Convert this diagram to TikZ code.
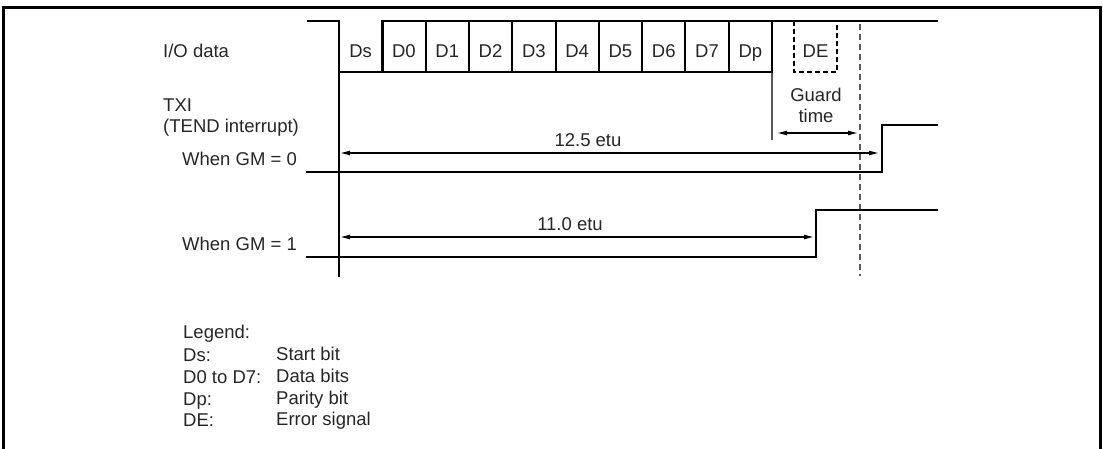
\documentclass[tikz,border=0pt]{standalone}
\usepackage{fontspec}
\setmainfont{Liberation Sans}
\usetikzlibrary{arrows.meta}
\begin{document}
\begin{tikzpicture}[x=1pt,y=-1pt,
  lbl/.style={font=\fontsize{18.5}{22}\selectfont, inner sep=0pt, anchor=base west, text=black!85},
  bitlbl/.style={lbl, anchor=base},
  sig/.style={line width=2.8pt, line join=miter, line cap=rect},
  divider/.style={line width=2pt},
  thinline/.style={line width=1.2pt},
  dimline/.style={line width=1.1pt, {Latex[length=10pt,width=5pt]}-{Latex[length=10pt,width=5pt]}},
  guide/.style={line width=1.3pt, dash pattern=on 6pt off 4pt, black!65},
  errbox/.style={line width=2pt, dash pattern=on 5pt off 3pt}
]
\useasboundingbox (0,0) rectangle (1103,448);
\draw[line width=3pt] (3.5,450) -- (3.5,7) -- (1100,7) -- (1100,450);

% bit boundaries
\foreach \i in {0,...,10} {
  \coordinate (bt\i) at ({339+43.3*\i},21);
  \coordinate (bb\i) at ({339+43.3*\i},72);
}
% I/O data waveform
\coordinate (ioL) at (308,21);
\coordinate (ioR) at (937,21);
\draw[sig] (ioL) -- (bt0) -- (bb0) -- (bb10);
\draw[sig] (bb1) -- (bt1) -- (ioR);
\foreach \i in {2,...,10} { \draw[divider] (bt\i) -- (bb\i); }

% bit labels
\foreach \n [count=\k from 0] in {Ds,D0,D1,D2,D3,D4,D5,D6,D7,Dp} {
  \node[bitlbl] (bit\k) at ({339+43.3*\k+21.65},57) {\n};
}
% DE dashed box
\coordinate (deTL) at (794,21);
\coordinate (deBL) at (794,72);
\coordinate (deBR) at (837,72);
\coordinate (deTR) at (837,21);
\draw[errbox] (deTL) -- (deBL) -- (deBR) -- (deTR);
\node[bitlbl] (de) at (815.5,57) {DE};

% vertical reference lines
\coordinate (refB) at (339,277);
\draw[thinline] (bb0) -- (refB);
\coordinate (gtB) at (772,140);
\draw[thinline] (bb10) -- (gtB);
\coordinate (guT) at (860,24);
\coordinate (guB) at (860,276);
\draw[guide] (guT) -- (guB);

% TXI waveforms
\coordinate (g0a) at (307,172);
\coordinate (g0b) at (882,172);
\coordinate (g0c) at (882,125);
\coordinate (g0d) at (937,125);
\draw[sig] (g0a) -- (g0b) -- (g0c) -- (g0d);
\coordinate (g1a) at (307,257);
\coordinate (g1b) at (816,257);
\coordinate (g1c) at (816,210);
\coordinate (g1d) at (937,210);
\draw[sig] (g1a) -- (g1b) -- (g1c) -- (g1d);

% dimension arrows
\coordinate (a0L) at (340,153);
\coordinate (a0R) at (879,153);
\draw[dimline] (a0L) -- (a0R);
\coordinate (a1L) at (340,237);
\coordinate (a1R) at (814,237);
\draw[dimline] (a1L) -- (a1R);
\coordinate (agL) at (777,133);
\coordinate (agR) at (858,133);
\draw[dimline] (agL) -- (agR);

% labels
\node[lbl] (io) at (163,57) {I/O data};
\node[lbl] (txi) at (163,111) {TXI};
\node[lbl] (tend) at (163,132) {(TEND interrupt)};
\node[lbl] (gm0) at (182,165) {When GM = 0};
\node[lbl] (gm1) at (182,250) {When GM = 1};
\node[bitlbl] (guard) at (816,101) {Guard};
\node[bitlbl] (gtime) at (816,122) {time};
\node[bitlbl] (e125) at (588,146) {12.5 etu};
\node[bitlbl] (e110) at (570,230) {11.0 etu};

% legend
\node[lbl] (leg) at (183,338) {Legend:};
\node[lbl] (l1a) at (183,361) {Ds:};
\node[lbl] (l1b) at (276,360) {Start bit};
\node[lbl] (l2a) at (183,383) {D0 to D7:};
\node[lbl] (l2b) at (276,382) {Data bits};
\node[lbl] (l3a) at (183,405) {Dp:};
\node[lbl] (l3b) at (276,404) {Parity bit};
\node[lbl] (l4a) at (183,426) {DE:};
\node[lbl] (l4b) at (276,425) {Error signal};
\end{tikzpicture}
\end{document}
